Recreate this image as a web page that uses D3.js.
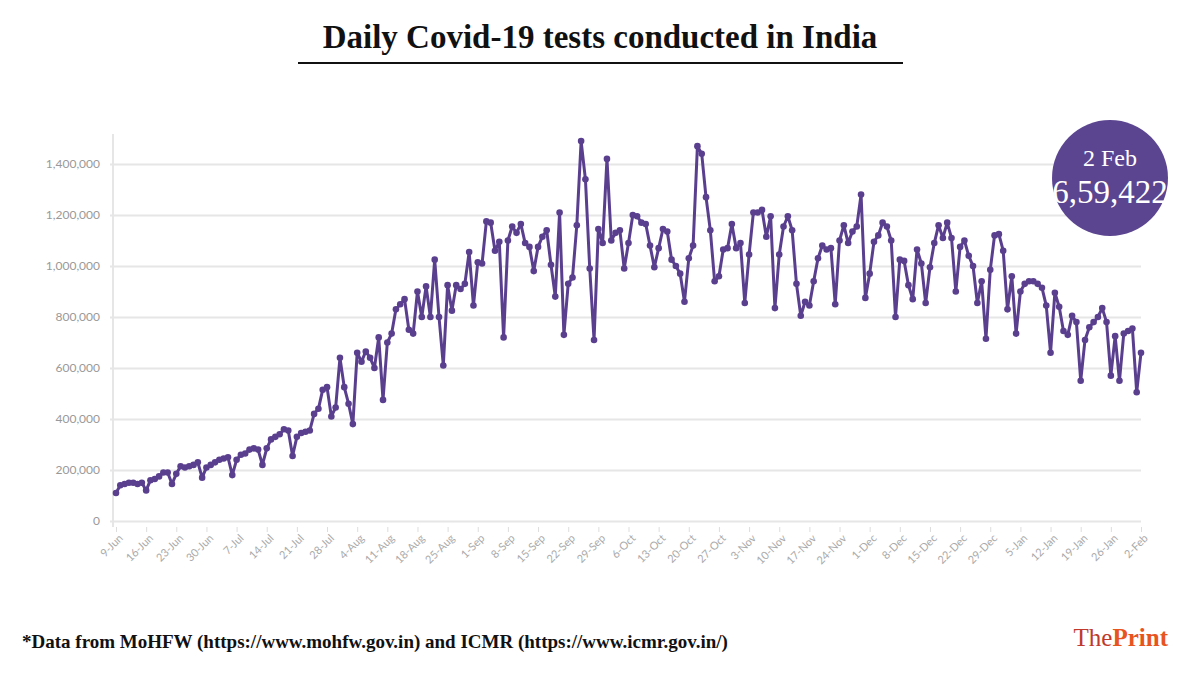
<!DOCTYPE html>
<html>
<head>
<meta charset="utf-8">
<script src="https://cdn.jsdelivr.net/npm/d3@7"></script>
<style>
  body { margin: 0; background: #fff; }
  svg { font-family: "Liberation Serif", "DejaVu Serif", serif; }
</style>
</head>
<body>
<svg id="chart" width="1200" height="675"></svg>
<script>
// daily tests, thousands, starting 9 Jun
const tests = [
  110,140,145,150,150,145,150,
  120,160,165,175,190,190,145,
  185,215,210,215,220,230,170,
  210,220,230,240,245,250,180,
  240,260,265,280,285,280,220,
  285,320,330,340,360,355,255,
  330,345,350,355,420,440,515,
  525,410,445,640,525,460,380,
  660,625,665,640,600,720,475,
  700,735,830,850,870,750,735,
  900,800,920,800,1025,800,610,
  925,825,925,910,930,1055,845,
  1015,1010,1175,1170,1060,1095,720,
  1100,1155,1130,1165,1090,1075,980,
  1075,1115,1140,1005,880,1210,730,
  930,955,1160,1490,1340,990,710,
  1145,1090,1420,1100,1130,1140,990,
  1090,1200,1195,1170,1165,1080,995,
  1070,1145,1135,1025,1000,970,860,
  1030,1080,1470,1440,1270,1140,940,
  960,1065,1070,1165,1070,1090,855,
  1045,1210,1210,1220,1115,1195,835,
  1045,1155,1195,1140,930,805,860,
  845,940,1030,1080,1065,1070,850,
  1100,1160,1090,1135,1155,1280,875,
  970,1095,1120,1170,1155,1100,800,
  1025,1020,925,870,1065,1010,855,
  995,1090,1160,1110,1170,1110,900,
  1075,1100,1040,1000,855,940,715,
  985,1120,1125,1060,830,960,735,
  900,930,940,940,930,915,845,
  660,895,840,745,730,805,780,
  550,710,760,780,800,835,780,
  570,725,550,735,745,755,505,
  659.422
];
const xTickLabels = ["9-Jun","16-Jun","23-Jun","30-Jun","7-Jul","14-Jul","21-Jul","28-Jul",
  "4-Aug","11-Aug","18-Aug","25-Aug","1-Sep","8-Sep","15-Sep","22-Sep","29-Sep",
  "6-Oct","13-Oct","20-Oct","27-Oct","3-Nov","10-Nov","17-Nov","24-Nov","1-Dec",
  "8-Dec","15-Dec","22-Dec","29-Dec","5-Jan","12-Jan","19-Jan","26-Jan","2-Feb"];
const yTicks = [0,200000,400000,600000,800000,1000000,1200000,1400000];

const svg = d3.select("#chart");
const purple = "#5a3f8f";
const plotL = 116, plotR = 1141, plotT = 164, plotB = 521;

const x = d3.scaleLinear().domain([0, tests.length - 1]).range([plotL, plotR]);
const y = d3.scaleLinear().domain([0, 1400000]).range([plotB, plotT]);

// title
svg.append("text").attr("x", 600).attr("y", 48).attr("text-anchor", "middle")
  .attr("font-size", 33).attr("font-weight", "bold").attr("fill", "#111")
  .text("Daily Covid-19 tests conducted in India");
svg.append("line").attr("x1", 298).attr("x2", 903).attr("y1", 63).attr("y2", 63)
  .attr("stroke", "#111").attr("stroke-width", 2);

// y axis grid
const yAxis = d3.axisLeft(y).tickValues(yTicks).tickSize(-(plotR - plotL + 6)).tickPadding(10)
  .tickFormat(d3.format(","));
const gy = svg.append("g").attr("transform", `translate(${plotL - 6},0)`).call(yAxis);
gy.select(".domain").remove();
gy.selectAll("line").attr("stroke", "#e6e6e6").attr("stroke-width", 2);
gy.selectAll("text").attr("fill", "#999").attr("font-size", 12)
  .attr("font-family", "Lato, sans-serif");

// x axis
const xAxis = d3.axisBottom(x).tickValues(d3.range(0, tests.length, 7))
  .tickFormat((d, i) => xTickLabels[i]).tickSize(5);
const gx = svg.append("g").attr("transform", `translate(0,${plotB + 6})`).call(xAxis);
gx.select(".domain").remove();
gx.selectAll("line").attr("stroke", "#ddd");
gx.selectAll("text").attr("fill", "#aaa").attr("font-size", 11)
  .attr("font-family", "Lato, sans-serif")
  .attr("text-anchor", "end").attr("dx", "-0.3em").attr("dy", "0.5em")
  .attr("transform", "rotate(-45)");
svg.append("line").attr("x1", plotL - 3).attr("x2", plotL - 3).attr("y1", plotT - 30).attr("y2", plotB + 6)
  .attr("stroke", "#e6e6e6").attr("stroke-width", 2);

// line
svg.append("path").datum(tests)
  .attr("d", d3.line().x((d, i) => x(i)).y(d => y(d * 1000)))
  .attr("fill", "none").attr("stroke", purple).attr("stroke-width", 3)
  .attr("stroke-linejoin", "round");
svg.append("g").selectAll("circle").data(tests).join("circle")
  .attr("cx", (d, i) => x(i)).attr("cy", d => y(d * 1000)).attr("r", 3.3)
  .attr("fill", purple);

// badge
svg.append("circle").attr("cx", 1110).attr("cy", 178).attr("r", 58).attr("fill", "#5b4590");
svg.append("text").attr("x", 1110).attr("y", 166).attr("text-anchor", "middle")
  .attr("fill", "#fff").attr("font-size", 24).text("2 Feb");
svg.append("text").attr("x", 1110).attr("y", 203).attr("text-anchor", "middle")
  .attr("fill", "#fff").attr("font-size", 33).text("6,59,422");

// footer
svg.append("text").attr("x", 22).attr("y", 648).attr("font-size", 19).attr("font-weight", "bold")
  .attr("fill", "#111")
  .text("*Data from MoHFW (https://www.mohfw.gov.in) and ICMR (https://www.icmr.gov.in/)");
const logo = svg.append("text").attr("x", 1168).attr("y", 646).attr("text-anchor", "end")
  .attr("font-size", 25);
logo.append("tspan").attr("fill", "#c0392b").text("The");
logo.append("tspan").attr("fill", "#e8541e").attr("font-weight", "bold").text("Print");
</script>
</body>
</html>
